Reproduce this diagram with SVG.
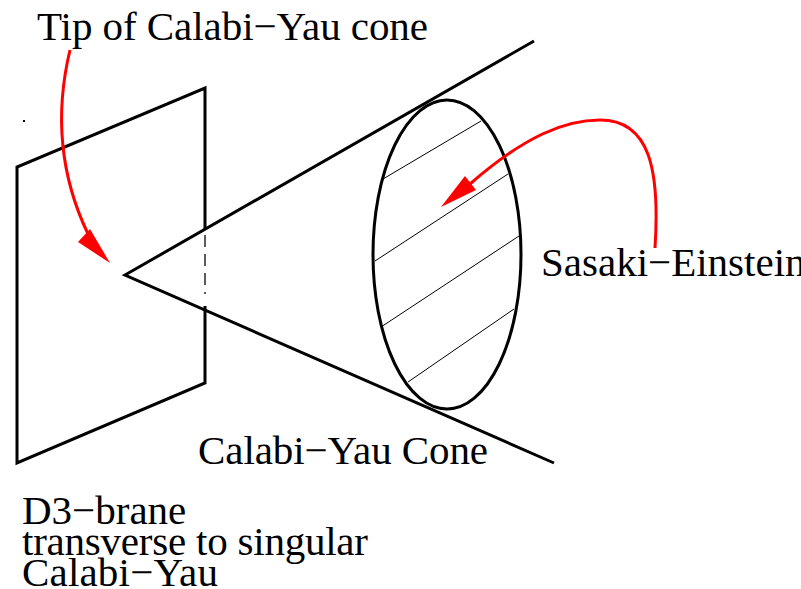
<svg xmlns="http://www.w3.org/2000/svg" width="801" height="589" viewBox="0 0 801 589">
<style>
text{font-family:"Liberation Serif","Times New Roman",serif;font-size:41px;fill:#000}
.b{fill:none;stroke:#000;stroke-width:3;stroke-linejoin:miter}
.h{fill:none;stroke:#000;stroke-width:1}
.r{fill:none;stroke:#f00;stroke-width:3}
</style>
<rect width="801" height="589" fill="#fff"/>
<g id="brane">
<path class="b" d="M205 229V88L17 167V463L205 383V306"/>
<path d="M205 235V301" fill="none" stroke="#333" stroke-width="1.6" stroke-dasharray="12 7 12 7 12 7 2"/>
<rect x="23" y="120" width="2" height="2" fill="#000"/>
</g>
<g id="cone">
<path class="b" d="M534 41L125 275L554 463"/>
<ellipse class="b" cx="447" cy="254.500" rx="74" ry="154.500"/>
</g>
<g id="hatch">
<path class="h" d="M383 179L481 121M375 261L508 174M381 327L519 236M408 382L514 309"/>
</g>
<g id="connectors">
<path class="r" d="M70 50C58 100 55 165 88 234"/>
<polygon fill="#f00" points="110,263 78,242 90,229"/>
<path class="r" d="M655 248C660 170 650 120 600 120C565 120 525 136 470 184"/>
<polygon fill="#f00" points="441,207 465,176 476,190"/>
</g>
<g id="labels">
<text x="37" y="40" textLength="391">Tip of Calabi−Yau cone</text>
<text x="541" y="276">Sasaki−Einstein</text>
<text x="198" y="464" textLength="290">Calabi−Yau Cone</text>
<text x="22" y="524">D3−brane</text>
<text x="22" y="555" textLength="346">transverse to singular</text>
<text x="22" y="586" textLength="196">Calabi−Yau</text>
</g>
</svg>
